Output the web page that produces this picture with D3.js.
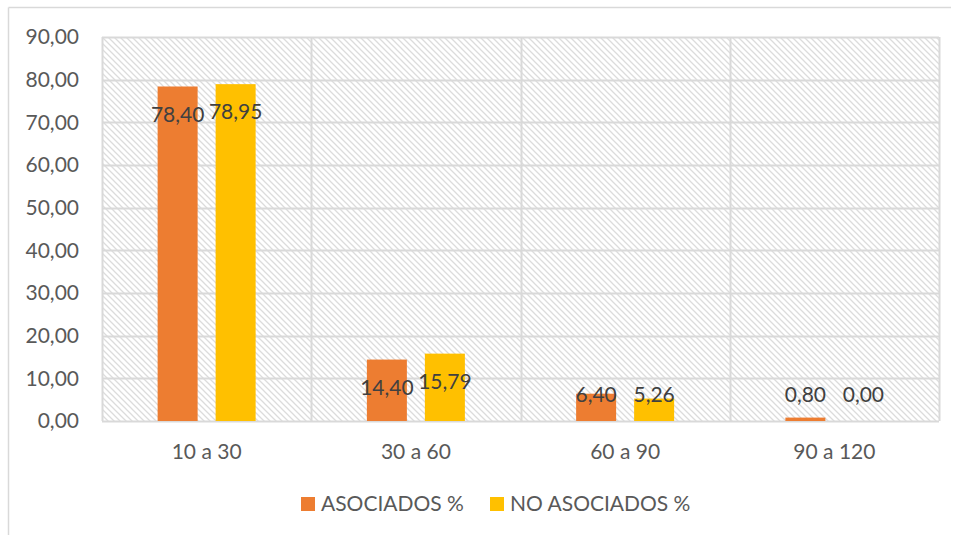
<!DOCTYPE html>
<html>
<head>
<meta charset="utf-8">
<script src="https://cdn.jsdelivr.net/npm/d3@7"></script>
<style>
  body { margin: 0; background: #fff; }
  text { font-family: Lato, "Open Sans", sans-serif; }
</style>
</head>
<body>
<div class="chart"></div>
<script>
var categories = ["10 a 30", "30 a 60", "60 a 90", "90 a 120"];
var seriesNames = ["ASOCIADOS %", "NO ASOCIADOS %"];
var asociados = [78.40, 14.40, 6.40, 0.80];
var noAsociados = [78.95, 15.79, 5.26, 0.00];
var yTicks = [0, 10, 20, 30, 40, 50, 60, 70, 80, 90];
var colors = ["#ED7D31", "#FFC000"];

var width = 955, height = 535;
var margin = {top: 37, right: 16, bottom: 114, left: 102};
var innerW = width - margin.left - margin.right,
    innerH = height - margin.top - margin.bottom;

var svg = d3.select(".chart").append("svg")
    .attr("width", width)
    .attr("height", height);

// hatch pattern for plot background
var defs = svg.append("defs");
var pat = defs.append("pattern")
    .attr("id", "hatch")
    .attr("patternUnits", "userSpaceOnUse")
    .attr("width", 6)
    .attr("height", 6);
pat.append("path")
    .attr("d", "M-1,-1 L7,7 M-1,5 L1,7 M5,-1 L7,1")
    .style("stroke", "#dcdcdc")
    .style("stroke-width", 1.3);

// outer frame (top and left edges visible)
svg.append("line").attr("x1", 8.5).attr("y1", 7.5).attr("x2", 951).attr("y2", 7.5)
    .style("stroke", "#d9d9d9").style("stroke-width", 1.5);
svg.append("line").attr("x1", 8.5).attr("y1", 7.5).attr("x2", 8.5).attr("y2", height)
    .style("stroke", "#d9d9d9").style("stroke-width", 1.5);

var g = svg.append("g")
    .attr("transform", "translate(" + margin.left + "," + margin.top + ")");

var x = d3.scaleBand().domain(categories).range([0, innerW]);
var y = d3.scaleLinear().domain([0, 90]).range([innerH, 0]);

g.append("rect")
    .attr("width", innerW)
    .attr("height", innerH)
    .style("fill", "url(#hatch)");

// gridlines
g.selectAll(".hgrid").data(yTicks).enter().append("line")
    .attr("class", "hgrid")
    .attr("x1", 0).attr("x2", innerW)
    .attr("y1", function(d) { return Math.round(y(d)) + 0.5; })
    .attr("y2", function(d) { return Math.round(y(d)) + 0.5; })
    .style("stroke", "#d9d9d9").style("stroke-width", 2);

var vlines = d3.range(categories.length + 1).map(function(i) { return i * x.step(); });
g.selectAll(".vgrid").data(vlines).enter().append("line")
    .attr("class", "vgrid")
    .attr("x1", function(d) { return Math.round(d) + 0.5; })
    .attr("x2", function(d) { return Math.round(d) + 0.5; })
    .attr("y1", 0).attr("y2", innerH)
    .style("stroke", "#d9d9d9").style("stroke-width", 2);

// y axis labels
g.selectAll(".ytick").data(yTicks).enter().append("text")
    .attr("class", "ytick")
    .attr("x", -23)
    .attr("y", function(d) { return y(d); })
    .attr("dy", ".35em")
    .attr("text-anchor", "end")
    .style("font-size", "21px")
    .style("fill", "#595959")
    .text(function(d) { return d3.format(".2f")(d).replace(".", ","); });

// x axis labels
g.selectAll(".xtick").data(categories).enter().append("text")
    .attr("class", "xtick")
    .attr("x", function(d) { return x(d) + x.bandwidth() / 2; })
    .attr("y", innerH + 31)
    .attr("dy", ".35em")
    .attr("text-anchor", "middle")
    .style("font-size", "21px")
    .style("fill", "#595959")
    .text(function(d) { return d; });

// bars
var series = [asociados, noAsociados];
var barW = 40, offsets = [-49, 9];

series.forEach(function(vals, s) {
    var bars = g.selectAll(".bar" + s).data(vals).enter();
    bars.append("rect")
        .attr("class", "bar" + s)
        .attr("x", function(d, i) { return x(categories[i]) + x.bandwidth() / 2 + offsets[s]; })
        .attr("y", function(d) { return y(d); })
        .attr("width", barW)
        .attr("height", function(d) { return innerH - y(d); })
        .style("fill", colors[s]);
});

series.forEach(function(vals, s) {
    g.selectAll(".lbl" + s).data(vals).enter().append("text")
        .attr("class", "lbl" + s)
        .attr("x", function(d, i) { return x(categories[i]) + x.bandwidth() / 2 + offsets[s] + barW / 2; })
        .attr("y", function(d) { return Math.min(y(d) + 28, innerH - 26); })
        .attr("dy", ".35em")
        .attr("text-anchor", "middle")
        .style("font-size", "21px")
        .style("fill", "#404040")
        .text(function(d) { return d3.format(".2f")(d).replace(".", ","); });
});

// legend
var legend = svg.append("g").attr("transform", "translate(0,504)");
var legX = [301, 490];
seriesNames.forEach(function(name, i) {
    legend.append("rect")
        .attr("x", legX[i]).attr("y", -7)
        .attr("width", 14).attr("height", 14)
        .style("fill", colors[i]);
    legend.append("text")
        .attr("x", legX[i] + 20).attr("y", 0)
        .attr("dy", ".35em")
        .style("font-size", "21px")
        .style("fill", "#595959")
        .text(name);
});
</script>
</body>
</html>
